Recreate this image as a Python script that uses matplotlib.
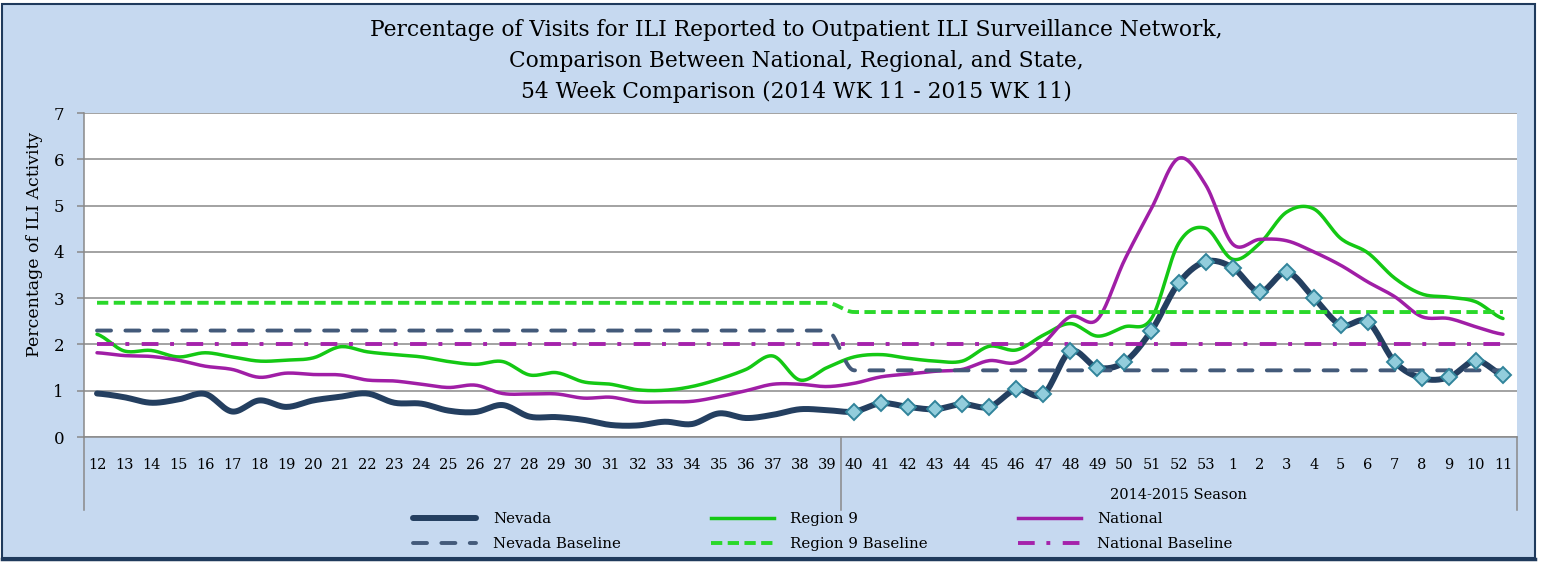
import numpy as np
import matplotlib
matplotlib.use('Agg')
import matplotlib.pyplot as plt
from matplotlib.lines import Line2D
from matplotlib.patches import Rectangle
import matplotlib.transforms as mtransforms

# ---------------- data ----------------
weeks = ['12', '13', '14', '15', '16', '17', '18', '19', '20', '21', '22', '23', '24', '25',
         '26', '27', '28', '29', '30', '31', '32', '33', '34', '35', '36', '37', '38', '39',
         '40', '41', '42', '43', '44', '45', '46', '47', '48', '49', '50', '51', '52', '53',
         '1', '2', '3', '4', '5', '6', '7', '8', '9', '10', '11']

nevada = [0.94, 0.86, 0.74, 0.81, 0.93, 0.55, 0.79, 0.65, 0.79, 0.87,
          0.94, 0.74, 0.72, 0.57, 0.54, 0.69, 0.44, 0.43, 0.37, 0.26,
          0.25, 0.33, 0.28, 0.51, 0.41, 0.48, 0.60, 0.58, 0.55, 0.73,
          0.65, 0.60, 0.71, 0.65, 1.03, 0.92, 1.85, 1.50, 1.62, 2.30,
          3.32, 3.79, 3.66, 3.14, 3.56, 3.01, 2.42, 2.49, 1.62, 1.27,
          1.29, 1.65, 1.34]

region9 = [2.22, 1.86, 1.87, 1.73, 1.82, 1.73, 1.64, 1.66, 1.71, 1.95,
           1.84, 1.78, 1.73, 1.63, 1.57, 1.63, 1.34, 1.39, 1.19, 1.14,
           1.02, 1.01, 1.09, 1.25, 1.46, 1.75, 1.23, 1.50, 1.73, 1.78,
           1.70, 1.64, 1.64, 1.96, 1.88, 2.20, 2.45, 2.18, 2.38, 2.56,
           4.18, 4.51, 3.84, 4.18, 4.86, 4.93, 4.29, 3.98, 3.43, 3.09,
           3.02, 2.92, 2.56]

national = [1.82, 1.76, 1.74, 1.66, 1.53, 1.46, 1.29, 1.38, 1.35, 1.34,
            1.23, 1.21, 1.14, 1.07, 1.12, 0.94, 0.93, 0.93, 0.84, 0.86,
            0.76, 0.76, 0.77, 0.87, 1.00, 1.14, 1.14, 1.09, 1.16, 1.30,
            1.36, 1.42, 1.46, 1.65, 1.61, 2.02, 2.60, 2.54, 3.82, 4.94,
            6.02, 5.45, 4.17, 4.27, 4.24, 4.00, 3.71, 3.35, 3.03, 2.60,
            2.56, 2.38, 2.22]

nevada_baseline = [2.3, 2.3, 2.3, 2.3, 2.3, 2.3, 2.3, 2.3, 2.3, 2.3,
                   2.3, 2.3, 2.3, 2.3, 2.3, 2.3, 2.3, 2.3, 2.3, 2.3,
                   2.3, 2.3, 2.3, 2.3, 2.3, 2.3, 2.3, 2.3, 1.44, 1.44,
                   1.44, 1.44, 1.44, 1.44, 1.44, 1.44, 1.44, 1.44, 1.44, 1.44,
                   1.44, 1.44, 1.44, 1.44, 1.44, 1.44, 1.44, 1.44, 1.44, 1.44,
                   1.44, 1.44, 1.44]

region9_baseline = [2.9, 2.9, 2.9, 2.9, 2.9, 2.9, 2.9, 2.9, 2.9, 2.9,
                    2.9, 2.9, 2.9, 2.9, 2.9, 2.9, 2.9, 2.9, 2.9, 2.9,
                    2.9, 2.9, 2.9, 2.9, 2.9, 2.9, 2.9, 2.9, 2.7, 2.7,
                    2.7, 2.7, 2.7, 2.7, 2.7, 2.7, 2.7, 2.7, 2.7, 2.7,
                    2.7, 2.7, 2.7, 2.7, 2.7, 2.7, 2.7, 2.7, 2.7, 2.7,
                    2.7, 2.7, 2.7]

national_baseline = [2.0, 2.0, 2.0, 2.0, 2.0, 2.0, 2.0, 2.0, 2.0, 2.0,
                     2.0, 2.0, 2.0, 2.0, 2.0, 2.0, 2.0, 2.0, 2.0, 2.0,
                     2.0, 2.0, 2.0, 2.0, 2.0, 2.0, 2.0, 2.0, 2.0, 2.0,
                     2.0, 2.0, 2.0, 2.0, 2.0, 2.0, 2.0, 2.0, 2.0, 2.0,
                     2.0, 2.0, 2.0, 2.0, 2.0, 2.0, 2.0, 2.0, 2.0, 2.0,
                     2.0, 2.0, 2.0]

season_label = '2014-2015 Season'
season_start = 28  # index of week 40

title_lines = ['Percentage of Visits for ILI Reported to Outpatient ILI Surveillance Network,',
               'Comparison Between National, Regional, and State,',
               '54 Week Comparison (2014 WK 11 - 2015 WK 11)']

# ---------------- style ----------------
plt.rcParams['font.family'] = ['DejaVu Serif']
BG = '#C6D9F0'
GRID = '#898989'
C_NV = '#243F60'
C_R9 = '#14C814'
C_NAT = '#A01EA6'
C_NVB = '#435A7A'
C_R9B = '#2AD82A'
C_NATB = '#A522AB'

W, H = 1541, 562
fig = plt.figure(figsize=(W / 100, H / 100), dpi=100)
fig.patch.set_facecolor('white')
fig.patches.append(Rectangle((2 / W, 4 / H), 1533 / W, 554 / H, transform=fig.transFigure,
                             facecolor=BG, edgecolor='#1F3A5C', lw=1.5, zorder=-10))
fig.lines.append(Line2D([2 / W, 1535 / W], [3 / H, 3 / H], transform=fig.transFigure,
                        color='#1F3A5C', lw=2.5, zorder=-9))

ax = fig.add_axes([83.5 / W, (H - 437) / H, (1516.5 - 83.5) / W, 324 / H])
ax.set_facecolor('white')
ax.set_zorder(1)


def smooth(vals, n=16, monotone=False):
    y = np.asarray(vals, float)
    x = np.arange(len(y), dtype=float)
    yp = np.concatenate([[y[0]], y, [y[-1]]])
    # tangents (Catmull-Rom style, as in spreadsheet smoothed lines)
    m = (yp[2:] - yp[:-2]) / 2.0
    if monotone:
        d0 = yp[1:-1] - yp[:-2]
        d1 = yp[2:] - yp[1:-1]
        m[d0 * d1 <= 0] = 0.0
    t = np.linspace(0, 1, n, endpoint=False)
    xs_out, ys_out = [], []
    for i in range(len(y) - 1):
        c1 = y[i] + m[i] / 3.0
        c2 = y[i + 1] - m[i + 1] / 3.0
        seg = (1 - t) ** 3 * y[i] + 3 * (1 - t) ** 2 * t * c1 + 3 * (1 - t) * t ** 2 * c2 + t ** 3 * y[i + 1]
        xs_out.append(x[i] + t)
        ys_out.append(seg)
    xs_out.append([x[-1]])
    ys_out.append([y[-1]])
    return np.concatenate(xs_out), np.concatenate(ys_out)


x_all = np.arange(len(weeks))

xs, ys = smooth(nevada)
ax.plot(xs, ys, color=C_NV, lw=4.3, solid_capstyle='round', solid_joinstyle='round', zorder=3)
xs, ys = smooth(region9)
ax.plot(xs, ys, color=C_R9, lw=2.5, solid_capstyle='round', zorder=3)
xs, ys = smooth(national)
ax.plot(xs, ys, color=C_NAT, lw=2.5, solid_capstyle='round', zorder=3)

xs, ys = smooth(nevada_baseline, monotone=True)
ax.plot(xs, ys, color=C_NVB, lw=2.8, linestyle=(0, (3.6, 3.7)), dash_capstyle='round', zorder=4)
xs, ys = smooth(region9_baseline, monotone=True)
ax.plot(xs, ys, color=C_R9B, lw=2.8, linestyle=(0, (2.9, 1.4)), zorder=4)
xs, ys = smooth(national_baseline, monotone=True)
ax.plot(xs, ys, color=C_NATB, lw=2.8, linestyle=(0, (4.3, 3.0, 1.0, 3.2)), zorder=4)

ax.plot(x_all[season_start:], nevada[season_start:], linestyle='none', marker='D',
        markersize=7.8, markerfacecolor='#92CDDC', markeredgecolor='#31849B',
        markeredgewidth=1.4, zorder=5)

ax.set_xlim(-0.5, len(weeks) - 0.5)
ax.set_ylim(0, 7)
ax.set_yticks(range(0, 8))
ax.set_yticklabels([str(v) for v in range(0, 8)], fontsize=12)
ax.set_xticks(x_all)
ax.set_xticklabels(weeks, fontsize=10.5)
ax.tick_params(axis='x', length=0, pad=15)
ax.tick_params(axis='y', length=5, width=1.1, color=GRID, pad=9)
ax.yaxis.grid(True, color=GRID, lw=1.1)
ax.set_axisbelow(True)
for s in ['top', 'right']:
    ax.spines[s].set_visible(False)
for s in ['left', 'bottom']:
    ax.spines[s].set_color(GRID)
    ax.spines[s].set_linewidth(1.1)

trans = mtransforms.blended_transform_factory(ax.transData, ax.transAxes)
for xv in [-0.5, season_start - 0.5, len(weeks) - 0.5]:
    ax.add_line(Line2D([xv, xv], [0, -0.226], transform=trans, clip_on=False,
                       color=GRID, lw=1.1))
ax.text((season_start + len(weeks) - 1) / 2, -0.179, season_label, transform=trans,
        ha='center', va='center', fontsize=10.5)

fig.text(35 / W, (H - 244) / H, 'Percentage of ILI Activity', rotation=90,
         ha='center', va='center', fontsize=12.5)

for i, line in enumerate(title_lines):
    fig.text(796 / W, (H - (30 + 31 * i)) / H, line, ha='center', va='center', fontsize=15.7)

handles = [
    Line2D([], [], color=C_NV, lw=4.3, solid_capstyle='round'),
    Line2D([], [], color=C_NVB, lw=2.8, linestyle=(0, (3.6, 3.7)), dash_capstyle='round'),
    Line2D([], [], color=C_R9, lw=2.5),
    Line2D([], [], color=C_R9B, lw=2.8, linestyle=(0, (2.9, 1.4))),
    Line2D([], [], color=C_NAT, lw=2.5),
    Line2D([], [], color=C_NATB, lw=2.8, linestyle=(0, (4.3, 3.0, 1.0, 3.2))),
]
labels = ['Nevada', 'Nevada Baseline', 'Region 9', 'Region 9 Baseline', 'National', 'National Baseline']
fig.legend(handles, labels, ncol=3, loc='center', bbox_to_anchor=(823 / W, (H - 531.5) / H),
           frameon=False, fontsize=10.8, handlelength=4.2, handletextpad=1.1,
           columnspacing=6.0, labelspacing=0.72)

fig.savefig('out.png', dpi=100, facecolor=fig.get_facecolor())
